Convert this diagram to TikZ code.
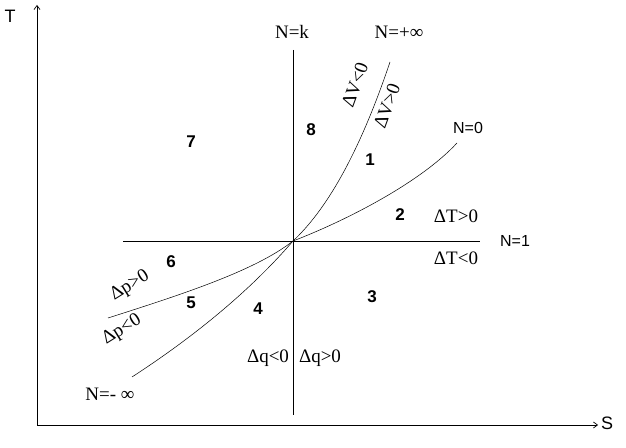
\documentclass[tikz,border=0pt]{standalone}
\usepackage{fontspec}
\setmainfont{Liberation Serif}
\newfontfamily\arial{Liberation Sans}
\usetikzlibrary{arrows.meta}
\begin{document}
\begin{tikzpicture}[x=1pt,y=1pt,
  ln/.style={line width=0.6pt},
  cv/.style={line width=0.5pt},
  ax/.style={line width=0.7pt,-{Straight Barb[length=4pt,width=6pt]}},
  num/.style={font=\arial\bfseries\fontsize{17}{17}\selectfont,inner sep=0pt},
  sl/.style={font=\arial\fontsize{16}{16}\selectfont,inner sep=0pt},
  big/.style={font=\arial\fontsize{18}{18}\selectfont,inner sep=0pt},
  tl/.style={font=\fontsize{19}{19}\selectfont,inner sep=0pt}]
\useasboundingbox (0,0) rectangle (626,447);
% axes
\coordinate (A0) at (37,22);
\coordinate (Ty) at (37,442);
\coordinate (Sx) at (598,22);
\draw[ax] (A0) -- (Ty);
\draw[ax] (A0) -- (Sx);
\node[big] (T) at (10,431) {T};
\node[big] (S) at (607,24) {S};
% main lines
\coordinate (O) at (293,206);
\coordinate (Vt) at (293,397);
\coordinate (Vb) at (293,32);
\coordinate (Hl) at (123,206);
\coordinate (Hr) at (480,206);
\draw[ln] (Vt) -- (Vb);
\draw[ln] (Hl) -- (Hr);
% curves
\coordinate (Pinf) at (390,385);
\coordinate (P0) at (457,304);
\coordinate (Pp) at (108,129);
\coordinate (Pm) at (132,70);
\draw[cv] (O) .. controls (325,236) and (358,290) .. (Pinf);
\draw[cv] (O) .. controls (345,226) and (420,264) .. (P0);
\draw[cv] (O) .. controls (255,176) and (180,152) .. (Pp);
\draw[cv] (O) .. controls (262,170) and (212,122) .. (Pm);
% curve labels
\node[tl] (Nk) at (292,415) {N=k};
\node[tl] (Ninf) at (399,415) {N=+∞};
\node[sl] (N0) at (468,319) {N=0};
\node[sl] (N1) at (515,206) {N=1};
\node[tl] (Nminf) at (110,53) {N=- ∞};
% region numbers
\node[num] (r7) at (191,305) {7};
\node[num] (r8) at (311,317) {8};
\node[num] (r1) at (370,287) {1};
\node[num] (r2) at (400,232) {2};
\node[num] (r6) at (171,185) {6};
\node[num] (r5) at (191,144) {5};
\node[num] (r4) at (258,138) {4};
\node[num] (r3) at (372,150) {3};
% delta labels
\node[tl] (dTp) at (456,231) {ΔT>0};
\node[tl] (dTm) at (456,189) {ΔT<0};
\node[tl] (dqm) at (268,89) {Δq<0};
\node[tl] (dqp) at (320,89) {Δq>0};
\node[tl,rotate=32] (dpp) at (130,161) {Δp>0};
\node[tl,rotate=32] (dpm) at (122,117) {Δp<0};
\node[tl,rotate=70] (dVm) at (355,362) {ΔV<0};
\node[tl,rotate=70] (dVp) at (387,341) {ΔV>0};
\end{tikzpicture}
\end{document}
